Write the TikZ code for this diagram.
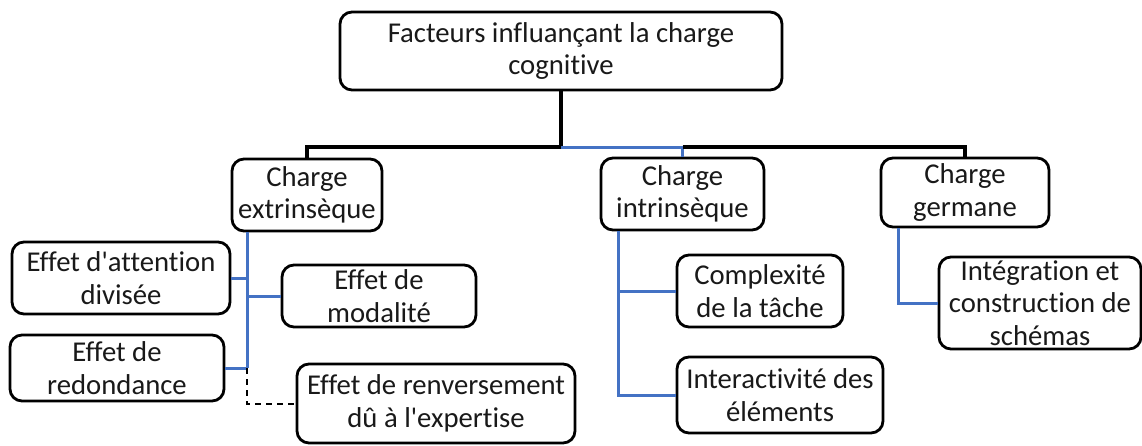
\documentclass[tikz,border=0pt]{standalone}
\usepackage{fontspec}
\setmainfont{Carlito}[Ligatures={TeX,NoCommon}]
\definecolor{linkblue}{RGB}{68,114,196}
\definecolor{txt}{RGB}{25,25,25}
\tikzset{
  box/.style={draw=black, line width=2.8pt, rounded corners=12pt, fill=white,
    align=center, inner sep=0pt, text=txt,
    font=\fontsize{28.7}{32.5}\selectfont},
  sz/.style 2 args={minimum width=#1pt, minimum height=#2pt},
  mainline/.style={draw=black, line width=3.4pt},
  rootline/.style={draw=black, line width=4pt},
  bluelink/.style={draw=linkblue, line width=3pt},
  dashlink/.style={draw=black, line width=2.4pt, dash pattern=on 6pt off 5pt},
}
\begin{document}
\begin{tikzpicture}[x=1pt,y=-1pt]
\useasboundingbox (0,0) rectangle (1142,445);

% boxes
\node[box, sz={442}{78}] (root) at (561,51) {Facteurs influançant la charge\\cognitive};
\node[box, sz={150}{72}] (ext) at (307,195) {Charge\\extrinsèque};
\node[box, sz={163}{72}] (intr) at (682.5,194) {Charge\\intrinsèque};
\node[box, sz={168}{69}] (germ) at (965,192.5) {Charge\\germane};
\node[box, sz={218}{72}] (att) at (121,278) {Effet d\textquotesingle attention\\divisée};
\node[box, sz={194}{62}] (mod) at (379,296) {Effet de\\modalité};
\node[box, sz={214}{66}] (red) at (117,368) {Effet de\\redondance};
\node[box, sz={278}{79}] (renv) at (436,403.5) {Effet de renversement\\dû à l\textquotesingle expertise};
\node[box, sz={166}{72}] (comp) at (760,291) {Complexité\\de la tâche};
\node[box, sz={206}{76}] (inter) at (780,395) {Interactivité des\\éléments};
\node[box, sz={202}{92}] (integ) at (1040,303) {Intégration et\\construction de\\schémas};

% top level connectors
\coordinate (hub) at (561,147);
\coordinate (hl) at (307,147);
\coordinate (hm) at (682.5,147);
\coordinate (hr) at (965,147);
\draw[rootline] (root.south) -- (hub);
\draw[mainline, line join=miter] (ext.north) -- (hl) -- (hub);
\draw[bluelink] (hub) -- (hm) -- (intr.north);
\draw[mainline, line join=miter] (hm) -- (hr) -- (germ.north);

% extrinsic branch
\coordinate (eb) at (247,368);
\coordinate (ed) at (247,404);
\draw[bluelink] (ext.south -| eb) -- (eb);
\draw[bluelink] (att.east) -- (att.east -| eb);
\draw[bluelink] (mod.west -| eb) -- (mod.west);
\draw[bluelink] (red.east) -- (eb);
\draw[dashlink] (eb) -- (ed) -- (ed -| renv.west);

% intrinsic branch
\coordinate (ib) at (618,395);
\draw[bluelink] (intr.south -| ib) -- (ib) -- (inter.west);
\draw[bluelink] (comp.west -| ib) -- (comp.west);

% germane branch
\coordinate (gb) at (898,303);
\draw[bluelink] (germ.south -| gb) -- (gb) -- (integ.west);
\end{tikzpicture}
\end{document}
